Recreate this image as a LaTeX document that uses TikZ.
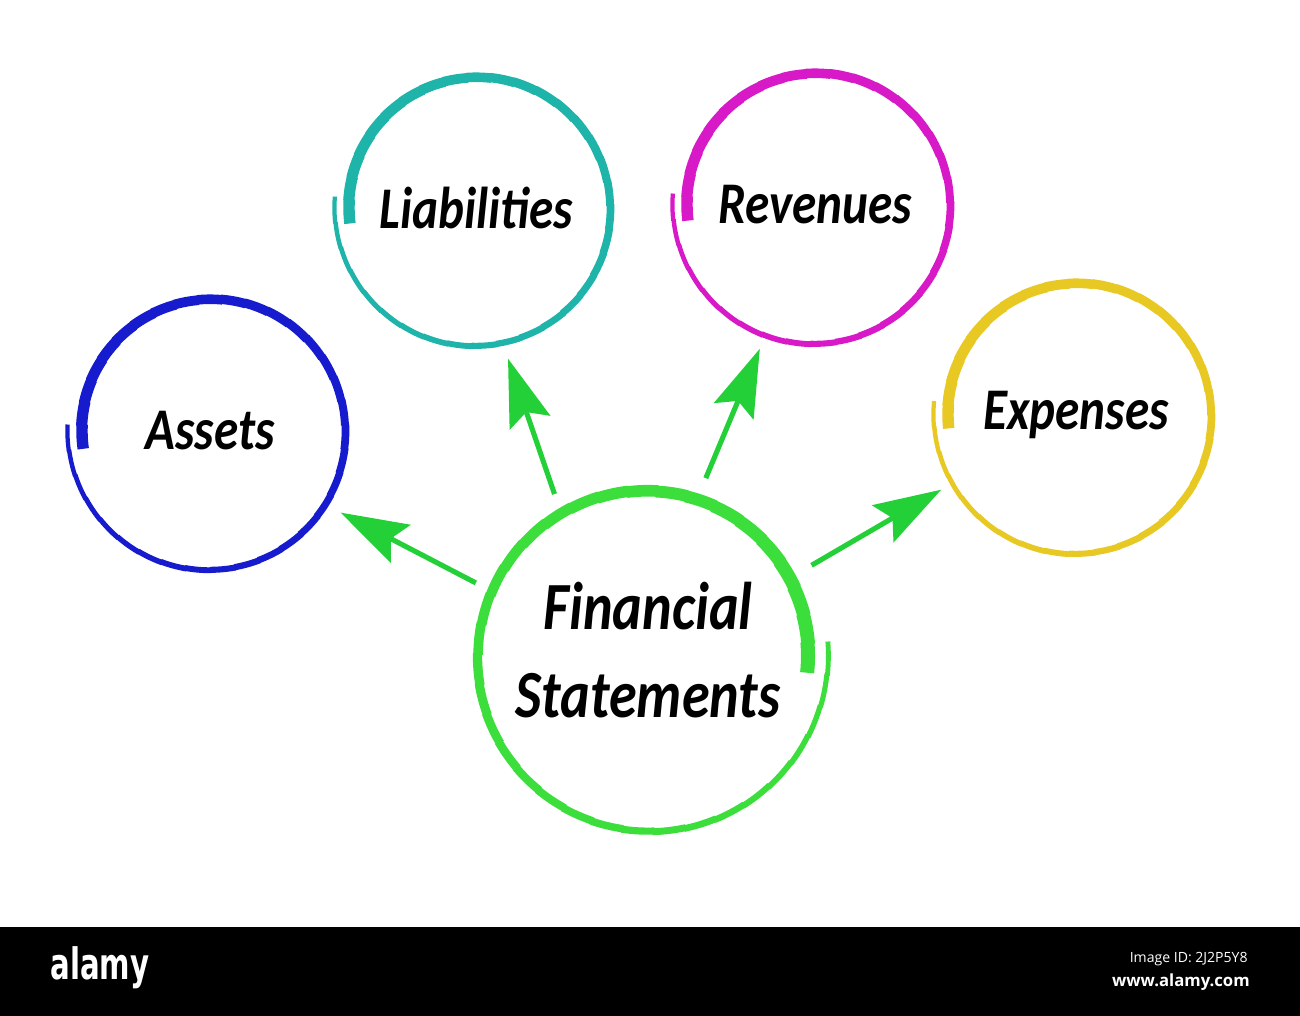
\documentclass[tikz,border=0pt]{standalone}
\usepackage{fontspec}
\setmainfont{Carlito}
\newfontfamily\logofont{DejaVu Sans Condensed}
\newfontfamily\idfont{Open Sans}
\usepackage{tikz}
\usetikzlibrary{arrows.meta, calc}

\definecolor{assetblue}{RGB}{22, 28, 205}
\definecolor{liabteal}{RGB}{30, 180, 170}
\definecolor{revmagenta}{RGB}{215, 25, 200}
\definecolor{expyellow}{RGB}{232, 200, 35}
\definecolor{hubgreen}{RGB}{60, 222, 60}
\definecolor{arrowgreen}{RGB}{35, 208, 55}

% text a little taller than wide, as in the picture
\newcommand{\vstretch}[1]{\scalebox{1}[1.2]{#1}}

% hand-drawn ring: centre, colour, start angle, sweep, radius from/to (cm), width from/to (pt)
\newcommand{\brushring}[8]{%
  \foreach \k in {0,...,35}{%
    \pgfmathsetmacro{\brang}{#3+(#4)*\k/36}%
    \pgfmathsetmacro{\brdel}{(#4)/34}%
    \pgfmathsetmacro{\brrad}{#5+(#6-#5)*\k/36}%
    \pgfmathsetmacro{\brwid}{#7+(#8-#7)*\k/36}%
    \draw[#2, line width=\brwid pt]
      ($(#1)+(\brang:\brrad)$) arc[start angle=\brang, delta angle=\brdel, radius=\brrad];
  }%
}

\tikzset{
  topic/.style={circle, minimum size=6.16cm, inner sep=0pt, outer sep=0pt,
    font=\fontsize{28}{34}\selectfont\bfseries\itshape},
  hub/.style={circle, minimum size=7.48cm, inner sep=0pt, outer sep=0pt,
    font=\fontsize{32}{42}\selectfont\bfseries\itshape},
  flow/.style={draw=arrowgreen, line width=2.9pt,
    -{Stealth[length=1.35cm, width=0.85cm, inset=0.22cm]}}
}

\begin{document}
\begin{tikzpicture}
  \useasboundingbox (0, 0) rectangle (26, 20.32);

  % the centre and the four parts
  \node[hub] (fs) at (12.96, 7.20) {\raisebox{4pt}{\vstretch{\begin{tabular}{@{}c@{}}Financial\\Statements\end{tabular}}}};
  \node[topic] (assets) at (4.20, 11.70) {\vstretch{Assets}};
  \node[topic] (liab) at (9.52, 16.16) {\vstretch{Liabilities}};
  \node[topic] (rev) at (16.30, 16.22) {\vstretch{Revenues}};
  \node[topic] (exp) at (21.52, 12.02) {\vstretch{Expenses}};

  % brush strokes round them
  \brushring{fs}{hubgreen}{-6}{370}{3.20}{3.62}{8.0}{2.6}
  \brushring{assets}{assetblue}{188}{-370}{2.56}{2.86}{6.5}{2.3}
  \brushring{liab}{liabteal}{187}{-371}{2.54}{2.84}{6.5}{2.3}
  \brushring{rev}{revmagenta}{187}{-371}{2.56}{2.86}{6.5}{2.3}
  \brushring{exp}{expyellow}{186}{-371}{2.56}{2.86}{6.5}{2.3}

  % arrows out of the centre
  \draw[flow] (fs.157) -- (assets.-32);
  \draw[flow] (fs.120) -- (liab.-78);
  \draw[flow] (fs.72) -- (rev.-111);
  \draw[flow] (fs.29) -- (exp.-151);

  % stock band
  \fill[black] (0, 0) rectangle (26, 1.78);
  \node[anchor=base west, inner sep=0pt, text=white, font=\logofont\bfseries\fontsize{22}{22}\selectfont] (logo) at (1.0, 0.72) {\scalebox{0.84}[1.12]{alamy}};
  \node[anchor=base east, inner sep=0pt, text=white, font=\idfont\fontsize{8}{8}\selectfont] (imgid) at (24.96, 1.06) {Image ID: 2J2P5Y8};
  \node[anchor=base east, inner sep=0pt, text=white, font=\idfont\bfseries\fontsize{9.5}{9.5}\selectfont] (site) at (25.0, 0.58) {www.alamy.com};
\end{tikzpicture}
\end{document}
